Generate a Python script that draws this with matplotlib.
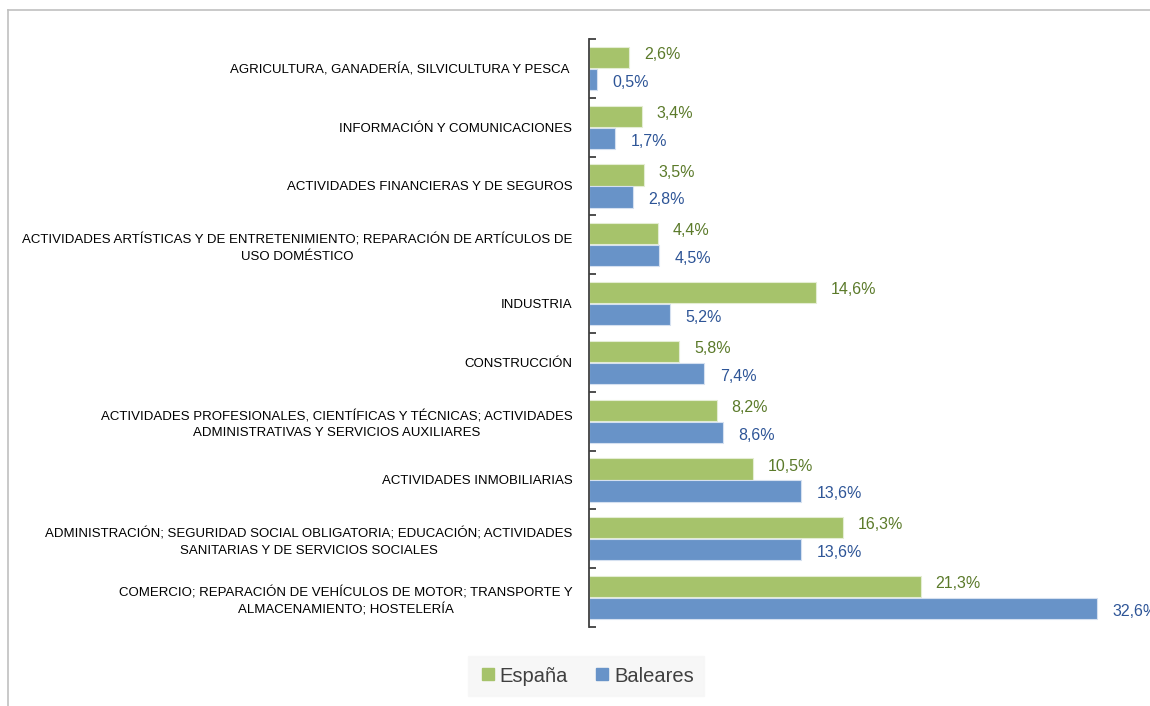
import numpy as np
import matplotlib.pyplot as plt
from matplotlib.lines import Line2D

# data
categorias = [
    "AGRICULTURA, GANADERÍA, SILVICULTURA Y PESCA ",
    "INFORMACIÓN Y COMUNICACIONES",
    "ACTIVIDADES FINANCIERAS Y DE SEGUROS",
    "ACTIVIDADES ARTÍSTICAS Y DE ENTRETENIMIENTO; REPARACIÓN DE ARTÍCULOS DE\nUSO DOMÉSTICO",
    "INDUSTRIA",
    "CONSTRUCCIÓN",
    "ACTIVIDADES PROFESIONALES, CIENTÍFICAS Y TÉCNICAS; ACTIVIDADES\nADMINISTRATIVAS Y SERVICIOS AUXILIARES",
    "ACTIVIDADES INMOBILIARIAS",
    "ADMINISTRACIÓN; SEGURIDAD SOCIAL OBLIGATORIA; EDUCACIÓN; ACTIVIDADES\nSANITARIAS Y DE SERVICIOS SOCIALES",
    "COMERCIO; REPARACIÓN DE VEHÍCULOS DE MOTOR; TRANSPORTE Y\nALMACENAMIENTO; HOSTELERÍA",
]
espana = [2.6, 3.4, 3.5, 4.4, 14.6, 5.8, 8.2, 10.5, 16.3, 21.3]
baleares = [0.5, 1.7, 2.8, 4.5, 5.2, 7.4, 8.6, 13.6, 13.6, 32.6]
series_names = ["España", "Baleares"]

plt.rcParams['font.family'] = ['Liberation Sans', 'DejaVu Sans']

verde = '#a6c36b'
azul = '#6893c8'
verde_txt = '#5b7a2a'
azul_txt = '#2e5597'

fig = plt.figure(figsize=(11.5, 7.06), dpi=100)
ax = fig.add_axes([589 / 1150, 1 - 627 / 706, 545 / 1150, 588 / 706])

y = np.arange(len(categorias))
h = 0.36
off = 0.187
b1 = ax.barh(y - off, espana, height=h, color=verde, edgecolor='#e4edd3', linewidth=0.8, label=series_names[0])
b2 = ax.barh(y + off, baleares, height=h, color=azul, edgecolor='#d5e0f0', linewidth=0.8, label=series_names[1])

for yy, v in zip(y - off, espana):
    ax.text(v + 0.95, yy - 0.05, f"{v:.1f}".replace('.', ',') + '%', color=verde_txt,
            fontsize=11.5, va='center', ha='left', clip_on=False)
for yy, v in zip(y + off, baleares):
    ax.text(v + 1.0, yy + 0.05, f"{v:.1f}".replace('.', ',') + '%', color=azul_txt,
            fontsize=11.5, va='center', ha='left', clip_on=False)

ax.set_xlim(0, 35)
ax.set_ylim(len(categorias) - 0.5, -0.5)
ax.set_yticks(y)
ax.set_yticklabels(categorias, fontsize=9.5, multialignment='center', linespacing=1.45)
ax.tick_params(axis='y', length=0, pad=12)
ax.set_yticks(np.arange(-0.5, len(categorias)), minor=True)
ax.tick_params(axis='y', which='minor', length=5, direction='in', width=1.3, color='#404040')
ax.set_xticks([])
for s in ['top', 'right', 'bottom']:
    ax.spines[s].set_visible(False)
ax.spines['left'].set_color('#404040')
ax.spines['left'].set_linewidth(1.3)

# legend
h1 = Line2D([], [], marker='s', color=verde, linestyle='none', markersize=9)
h2 = Line2D([], [], marker='s', color=azul, linestyle='none', markersize=9)
leg = fig.legend([h1, h2], series_names, loc='center', bbox_to_anchor=(586 / 1150, 1 - 676 / 706),
                 ncol=2, fontsize=14.5, frameon=True, fancybox=False, handletextpad=0.1,
                 columnspacing=1.2, handlelength=1.0, borderpad=0.5)
leg.get_frame().set_facecolor('#f6f6f6')
leg.get_frame().set_edgecolor('#f6f6f6')
for t in leg.get_texts():
    t.set_color('#404040')

# outer frame (top and left only)
fig.add_artist(Line2D([8 / 1150, 1], [1 - 10 / 706, 1 - 10 / 706], color='#c0c0c0', linewidth=1.2))
fig.add_artist(Line2D([8 / 1150, 8 / 1150], [0, 1 - 10 / 706], color='#c0c0c0', linewidth=1.2))

fig.savefig('out.png', dpi=100)
